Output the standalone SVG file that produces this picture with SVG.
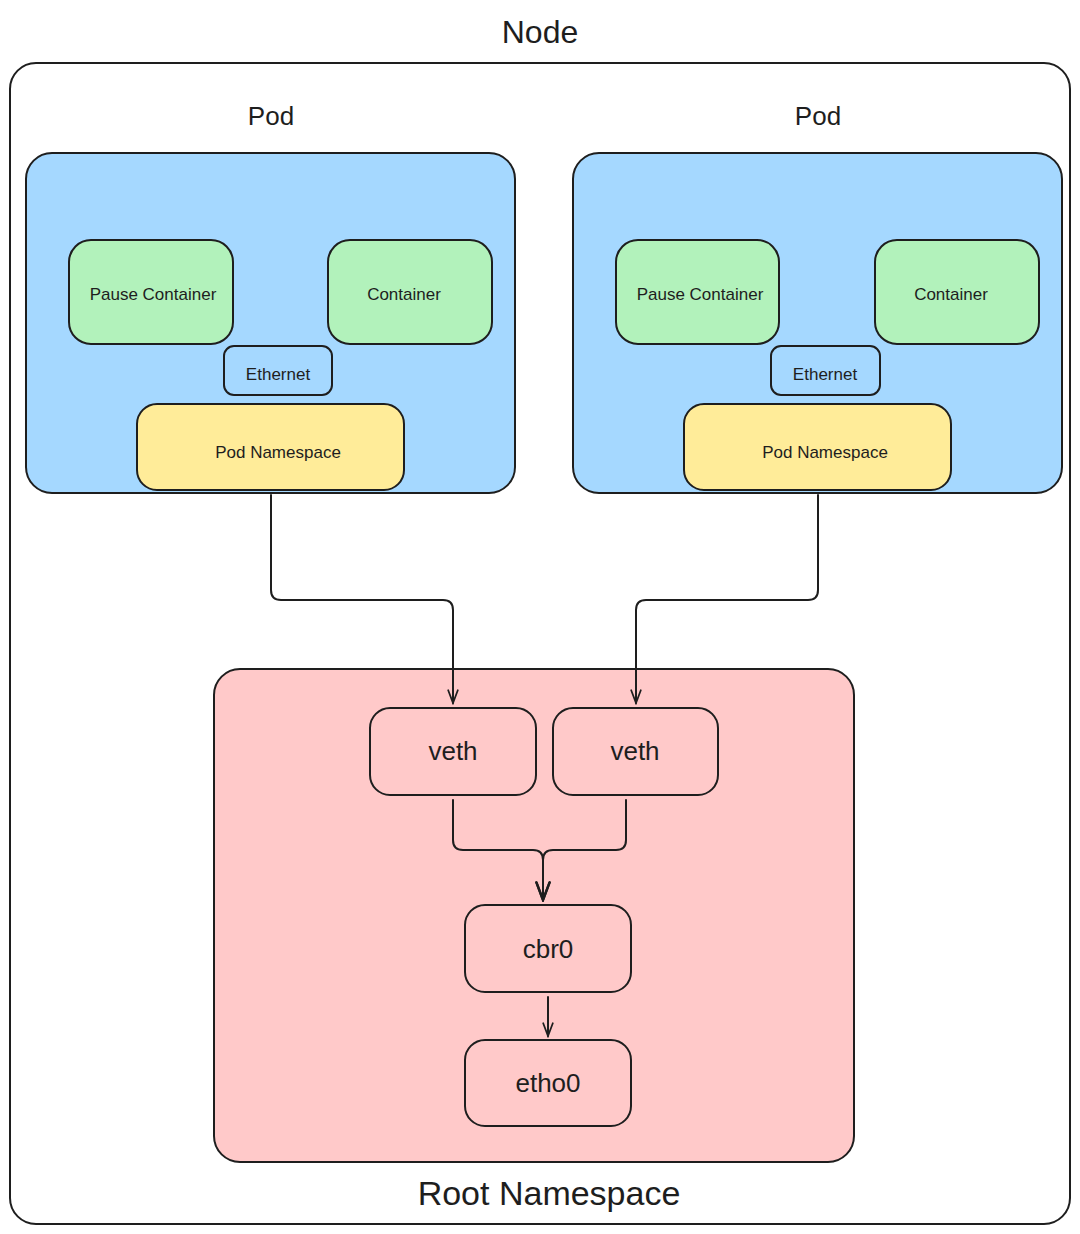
<svg xmlns="http://www.w3.org/2000/svg" width="1080" height="1234" viewBox="0 0 1080 1234">
<style>
.s{stroke:#1e1e1e;stroke-width:2;stroke-linejoin:round}
.t{font-family:"Liberation Sans","Noto Sans",sans-serif;fill:#1e1e1e;text-anchor:middle;dominant-baseline:central}
.pod{fill:#a5d8ff}
.ctr{fill:#b2f2bb}
.ns{fill:#ffec99}
.eth{fill:#a5d8ff}
.root{fill:#ffc9c9}
.c{fill:none;stroke:#1e1e1e;stroke-width:2;stroke-linecap:round;stroke-linejoin:round}
</style>
<defs>
<marker id="ah" viewBox="0 0 20 20" refX="18" refY="10" markerWidth="16" markerHeight="16" markerUnits="userSpaceOnUse" orient="auto">
<path d="M2,4 L18,10 L2,16" fill="none" stroke="#1e1e1e" stroke-width="2.2" stroke-linecap="round"/>
</marker>
<marker id="ahb" viewBox="0 0 20 20" refX="18" refY="10" markerWidth="22" markerHeight="22" markerUnits="userSpaceOnUse" orient="auto">
<path d="M2,4 L18,10 L2,16" fill="none" stroke="#1e1e1e" stroke-width="2.2" stroke-linecap="round"/>
</marker>
</defs>
<rect width="1080" height="1234" fill="#ffffff"/>
<g id="node">
<rect class="s" x="10" y="63" width="1060" height="1161" rx="26" fill="none"/>
<text class="t" x="540" y="32" font-size="32">Node</text>
</g>
<g id="pod-left">
<text class="t" x="271" y="116" font-size="26">Pod</text>
<rect class="s pod" x="26" y="153" width="489" height="340" rx="26"/>
</g>
<g id="pod-right">
<text class="t" x="818" y="116" font-size="26">Pod</text>
<rect class="s pod" x="573" y="153" width="489" height="340" rx="26"/>
</g>
<g id="pause-left">
<rect class="s ctr" x="69" y="240" width="164" height="104" rx="22"/>
<text class="t" x="153" y="294" font-size="17">Pause Container</text>
</g>
<g id="container-left">
<rect class="s ctr" x="328" y="240" width="164" height="104" rx="22"/>
<text class="t" x="404" y="294" font-size="17">Container</text>
</g>
<g id="ethernet-left">
<rect class="s eth" x="224" y="346" width="108" height="49" rx="10"/>
<text class="t" x="278" y="374" font-size="17">Ethernet</text>
</g>
<g id="podns-left">
<rect class="s ns" x="137" y="404" width="267" height="86" rx="20"/>
<text class="t" x="278" y="452" font-size="17">Pod Namespace</text>
</g>
<g id="pause-right">
<rect class="s ctr" x="616" y="240" width="163" height="104" rx="22"/>
<text class="t" x="700" y="294" font-size="17">Pause Container</text>
</g>
<g id="container-right">
<rect class="s ctr" x="875" y="240" width="164" height="104" rx="22"/>
<text class="t" x="951" y="294" font-size="17">Container</text>
</g>
<g id="ethernet-right">
<rect class="s eth" x="771" y="346" width="109" height="49" rx="10"/>
<text class="t" x="825" y="374" font-size="17">Ethernet</text>
</g>
<g id="podns-right">
<rect class="s ns" x="684" y="404" width="267" height="86" rx="20"/>
<text class="t" x="825" y="452" font-size="17">Pod Namespace</text>
</g>
<g id="root-namespace">
<rect class="s root" x="214" y="669" width="640" height="493" rx="26"/>
<text class="t" x="549" y="1193" font-size="34">Root Namespace</text>
</g>
<g id="veth-1">
<rect class="s root" x="370" y="708" width="166" height="87" rx="20"/>
<text class="t" x="453" y="751" font-size="26">veth</text>
</g>
<g id="veth-2">
<rect class="s root" x="553" y="708" width="165" height="87" rx="20"/>
<text class="t" x="635" y="751" font-size="26">veth</text>
</g>
<g id="cbr0">
<rect class="s root" x="465" y="905" width="166" height="87" rx="20"/>
<text class="t" x="548" y="949" font-size="26">cbr0</text>
</g>
<g id="etho0">
<rect class="s root" x="465" y="1040" width="166" height="86" rx="20"/>
<text class="t" x="548" y="1083" font-size="26">etho0</text>
</g>
<g id="connectors">
<path class="c" d="M271,495 L271,590 Q271,600 281,600 L443,600 Q453,600 453,610 L453,703" marker-end="url(#ah)"/>
<path class="c" d="M818,495 L818,590 Q818,600 808,600 L646,600 Q636,600 636,610 L636,703" marker-end="url(#ah)"/>
<path class="c" d="M453,800 L453,840 Q453,850 463,850 L533,850 Q543,850 543,860 L543,900" marker-end="url(#ahb)"/>
<path class="c" d="M626,800 L626,840 Q626,850 616,850 L553,850 Q543,850 543,860 L543,900" marker-end="url(#ahb)"/>
<path class="c" d="M548,997 L548,1036" marker-end="url(#ah)"/>
</g>
</svg>
